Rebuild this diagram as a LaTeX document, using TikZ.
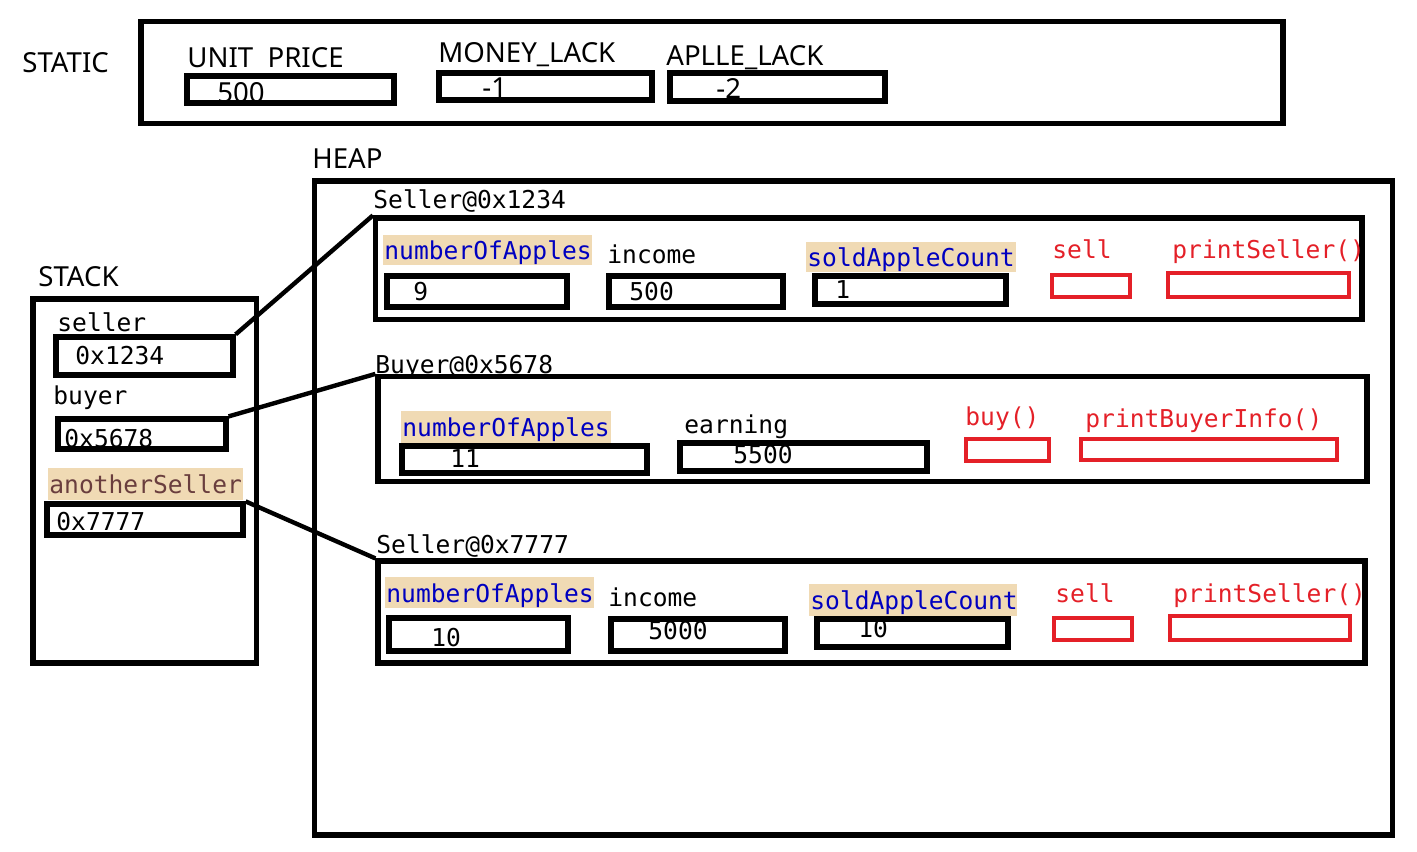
\documentclass[tikz,border=0pt]{standalone}
\usepackage{fontspec}
\usetikzlibrary{fit}
\newfontfamily\codefam{DejaVu Sans Mono}
\newfontfamily\labfam{Noto Sans}
\newcommand{\cf}{\codefam\fontsize{12.3}{14}\selectfont}
\newcommand{\lf}{\labfam\fontsize{13.8}{16}\selectfont}
\definecolor{codeblue}{RGB}{0,0,192}
\definecolor{hlcol}{RGB}{240,218,180}
\definecolor{varbrown}{RGB}{106,62,62}
\definecolor{mred}{RGB}{228,32,40}
\tikzset{
  bx/.style={draw=black, line width=2.6pt, inner sep=0pt},
  rbx/.style={draw=mred, line width=2.3pt, inner sep=0pt},
  hl/.style={fill=hlcol, draw=none, inner sep=0pt},
  lab/.style={anchor=base west, inner sep=0pt, font=\lf},
  code/.style={anchor=base west, inner sep=0pt, font=\cf},
  fld/.style={code, text=codeblue},
  meth/.style={code, text=mred},
  conn/.style={line width=2.2pt}
}
\begin{document}
\begin{tikzpicture}[x=0.5pt, y=-0.5pt]
\useasboundingbox (0,0) rectangle (1417,851);
% ---------- STATIC ----------
\node[lab] (lstatic) at (22,72) {STATIC};
\node (stbox) [bx, fit={(141,21.5) (1283,123.5)}] {};
\node[lab] (lunit) at (187,67) {UNIT\ \ PRICE};
\node[lab] (vunit) at (217,102) {500};
\node (bunit) [bx, fit={(187,76) (394,103)}] {};
\node[lab] (lmoney) at (438,62) {MONEY\_LACK};
\node[lab] (vmoney) at (482,97) {-1};
\node (bmoney) [bx, fit={(439,73) (652,100)}] {};
\node[lab] (lapple) at (666,65) {APLLE\_LACK};
\node[lab] (vapple) at (716,98) {-2};
\node (bapple) [bx, fit={(670,73) (885,101)}] {};
% ---------- HEAP ----------
\node[lab] (lheap) at (312,168) {HEAP};
\node (heap) [bx, fit={(314.5,181) (1392.5,835)}] {};
% ---------- STACK ----------
\node[lab] (lstack) at (38,286) {STACK};
\node (stack) [bx, fit={(33,299) (256.5,663)}] {};
\node[code] (tseller) at (57,331) {seller};
\node[code] (vseller) at (75,364) {0x1234};
\node (bseller) [bx, fit={(56,337) (233,375)}] {};
\node[code] (tbuyer) at (53,404) {buyer};
\node[code] (vbuyer) at (64,447) {0x5678};
\node (bbuyer) [bx, fit={(58,419) (226,449)}] {};
\node (hanother) [hl, fit={(48,468) (243,500)}] {};
\node[code, text=varbrown] (tanother) at (49,493) {anotherSeller};
\node[code] (vanother) at (56,530) {0x7777};
\node (banother) [bx, fit={(47,504) (243,535)}] {};
% ---------- Seller@0x1234 ----------
\node[code] (lobj1) at (373,208) {Seller@0x1234};
\node (obj1) [bx, fit={(375.5,218) (1362,319.5)}] {};
\node (h1a) [hl, fit={(383,235) (592,265)}] {};
\node[fld] (t1a) at (384,259) {numberOfApples};
\node[code] (v1a) at (413,300) {9};
\node (b1a) [bx, fit={(387,276) (567,307)}] {};
\node[code] (t1b) at (607,263) {income};
\node[code] (v1b) at (629,300) {500};
\node (b1b) [bx, fit={(609,276) (783,307)}] {};
\node (h1c) [hl, fit={(806,242) (1016,272)}] {};
\node[fld] (t1c) at (807,266) {soldAppleCount};
\node[code] (v1c) at (835,298) {1};
\node (b1c) [bx, fit={(815,276) (1006,304)}] {};
\node[meth] (t1d) at (1052,258) {sell};
\node (b1d) [rbx, fit={(1052,275) (1130,297)}] {};
\node[meth] (t1e) at (1172,258) {printSeller()};
\node (b1e) [rbx, fit={(1168,273) (1349,297)}] {};
% ---------- Buyer@0x5678 ----------
\node[code] (lobj2) at (375,373) {Buyer@0x5678};
\node (obj2) [bx, fit={(378,376.5) (1367,481.5)}] {};
\node (h2a) [hl, fit={(401,411) (611,443)}] {};
\node[fld] (t2a) at (402,436) {numberOfApples};
\node[code] (v2a) at (450,467) {11};
\node (b2a) [bx, fit={(402,446) (647,473)}] {};
\node[code] (t2b) at (684,433) {earning};
\node[code] (v2b) at (733,463) {5500};
\node (b2b) [bx, fit={(680,443) (927,471)}] {};
\node[meth] (t2c) at (965,425) {buy()};
\node (b2c) [rbx, fit={(966,439) (1049,461)}] {};
\node[meth] (t2d) at (1085,427) {printBuyerInfo()};
\node (b2d) [rbx, fit={(1081,439) (1337,460)}] {};
% ---------- Seller@0x7777 ----------
\node[code] (lobj3) at (376,553) {Seller@0x7777};
\node (obj3) [bx, fit={(378,561) (1365,663)}] {};
\node (h3a) [hl, fit={(385,577) (594,608)}] {};
\node[fld] (t3a) at (386,602) {numberOfApples};
\node[code] (v3a) at (431,646) {10};
\node (b3a) [bx, fit={(389,618) (568,651)}] {};
\node[code] (t3b) at (608,606) {income};
\node[code] (v3b) at (648,639) {5000};
\node (b3b) [bx, fit={(611,619) (785,651)}] {};
\node (h3c) [hl, fit={(809,584) (1017,616)}] {};
\node[fld] (t3c) at (810,609) {soldAppleCount};
\node[code] (v3c) at (858,637) {10};
\node (b3c) [bx, fit={(817,619) (1008,647)}] {};
\node[meth] (t3d) at (1055,602) {sell};
\node (b3d) [rbx, fit={(1054,618) (1132,640)}] {};
\node[meth] (t3e) at (1173,602) {printSeller()};
\node (b3e) [rbx, fit={(1170,616) (1350,640)}] {};
% ---------- connectors ----------
\draw[conn] (bseller.north east) -- (obj1.north west);
\draw[conn] (bbuyer.north east) -- (obj2.north west);
\draw[conn] (banother.north east) -- (obj3.north west);
\end{tikzpicture}
\end{document}
